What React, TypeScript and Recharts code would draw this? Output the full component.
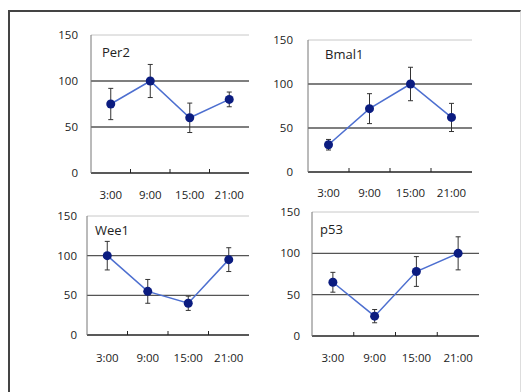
import {
  LineChart,
  Line,
  XAxis,
  YAxis,
  ReferenceLine,
  ErrorBar,
} from 'recharts';

// 採取時刻
const times = ['3:00', '9:00', '15:00', '21:00'];
const yTicks = [0, 50, 100, 150];

// 相対発現量 (平均値 ± 誤差)
const per2Mean = [75, 100, 60, 80];
const per2Err = [17, 18, 16, 8];
const bmal1Mean = [31, 72, 100, 62];
const bmal1Err = [6, 17, 19, 16];
const wee1Mean = [100, 55, 40, 95];
const wee1Err = [18, 15, 9, 15];
const p53Mean = [65, 24, 78, 100];
const p53Err = [12, 8, 18, 20];

const FONT = '"Open Sans", "Noto Sans", sans-serif';
const TEXT = '#222';

interface PanelProps {
  title: string;
  mean: number[];
  err: number[];
  plotLeft: number;
  plotTop: number;
  plotWidth: number;
  plotHeight: number;
  yGap: number; // y軸ラベルと軸の間隔
  xGap: number; // x軸から時刻ラベル中心まで
  titleDx: number;
  titleDy: number;
}

function Panel({
  title,
  mean,
  err,
  plotLeft,
  plotTop,
  plotWidth,
  plotHeight,
  yGap,
  xGap,
  titleDx,
  titleDy,
}: PanelProps) {
  const yAxisWidth = 40;
  const xAxisHeight = 32;
  const marginTop = 8;
  const marginRight = 4;
  const width = yAxisWidth + plotWidth + marginRight;
  const height = marginTop + plotHeight + xAxisHeight;
  const data = times.map((t, i) => ({ time: t, value: mean[i], err: err[i] }));
  const bw = plotWidth / times.length;

  // 時刻ラベル + 区切りの目盛り(内向き)
  const renderTick = (props: any) => {
    const { x, y, payload, index } = props;
    const axisY = y - xGap;
    return (
      <g>
        <text
          x={x}
          y={y}
          dy="0.35em"
          textAnchor="middle"
          fill={TEXT}
          fontSize={11.5}
          fontFamily={FONT}
        >
          {payload.value}
        </text>
        {index < times.length - 1 && (
          <line x1={x + bw / 2} x2={x + bw / 2} y1={axisY} y2={axisY - 4} stroke="#222" />
        )}
      </g>
    );
  };

  return (
    <div
      style={{
        position: 'absolute',
        left: plotLeft - yAxisWidth,
        top: plotTop - marginTop,
        width,
        height,
      }}
    >
      <LineChart
        width={width}
        height={height}
        data={data}
        margin={{ top: marginTop, right: marginRight, bottom: 0, left: 0 }}
      >
        <XAxis
          dataKey="time"
          scale="band"
          height={xAxisHeight}
          interval={0}
          tickSize={0}
          tickMargin={xGap}
          axisLine={{ stroke: '#222', strokeWidth: 1.3 }}
          tickLine={false}
          tick={renderTick}
        />
        <YAxis
          width={yAxisWidth}
          domain={[0, 150]}
          ticks={yTicks}
          interval={0}
          tickSize={0}
          tickMargin={yGap}
          tickLine={false}
          axisLine={{ stroke: '#777' }}
          tick={{ fill: TEXT, fontSize: 11.5, fontFamily: FONT }}
        />
        <YAxis
          yAxisId="right"
          orientation="right"
          width={0}
          domain={[0, 150]}
          tick={false}
          tickLine={false}
          axisLine={{ stroke: '#c8c8c8' }}
        />
        <ReferenceLine y={150} stroke="#c8c8c8" />
        <ReferenceLine y={100} stroke="#555" strokeWidth={1.3} />
        <ReferenceLine y={50} stroke="#555" strokeWidth={1.3} />
        <Line
          type="linear"
          dataKey="value"
          stroke="#4d6fd0"
          strokeWidth={1.5}
          dot={{ r: 4.5, fill: '#0b1c80', stroke: '#0b1c80', strokeWidth: 0 }}
          isAnimationActive={false}
        >
          <ErrorBar dataKey="err" direction="y" width={2.5} stroke="#333" strokeWidth={1} />
        </Line>
      </LineChart>
      <div
        style={{
          position: 'absolute',
          left: yAxisWidth + titleDx,
          top: marginTop + titleDy - 9,
          fontFamily: FONT,
          fontSize: 13,
          lineHeight: '18px',
          color: TEXT,
        }}
      >
        {title}
      </div>
    </div>
  );
}

export default function App() {
  return (
    <div
      style={{
        position: 'absolute',
        left: 0,
        top: 0,
        width: 521,
        height: 392,
        overflow: 'hidden',
        background: '#fff',
      }}
    >
      <div
        style={{
          position: 'absolute',
          left: 8,
          top: 10,
          width: 510,
          height: 400,
          borderLeft: '2px solid #444',
          borderTop: '2px solid #444',
          borderRight: '1px solid #ddd',
        }}
      />
      <Panel
        title="Per2"
        mean={per2Mean}
        err={per2Err}
        plotLeft={91}
        plotTop={35}
        plotWidth={158}
        plotHeight={138}
        yGap={13}
        xGap={22}
        titleDx={11}
        titleDy={17}
      />
      <Panel
        title="Bmal1"
        mean={bmal1Mean}
        err={bmal1Err}
        plotLeft={308}
        plotTop={40}
        plotWidth={164}
        plotHeight={132}
        yGap={15}
        xGap={21}
        titleDx={17}
        titleDy={14}
      />
      <Panel
        title="Wee1"
        mean={wee1Mean}
        err={wee1Err}
        plotLeft={87}
        plotTop={216}
        plotWidth={162}
        plotHeight={119}
        yGap={10}
        xGap={23}
        titleDx={8}
        titleDy={14}
      />
      <Panel
        title="p53"
        mean={p53Mean}
        err={p53Err}
        plotLeft={312}
        plotTop={212}
        plotWidth={167}
        plotHeight={124}
        yGap={12}
        xGap={22}
        titleDx={8}
        titleDy={17}
      />
    </div>
  );
}
